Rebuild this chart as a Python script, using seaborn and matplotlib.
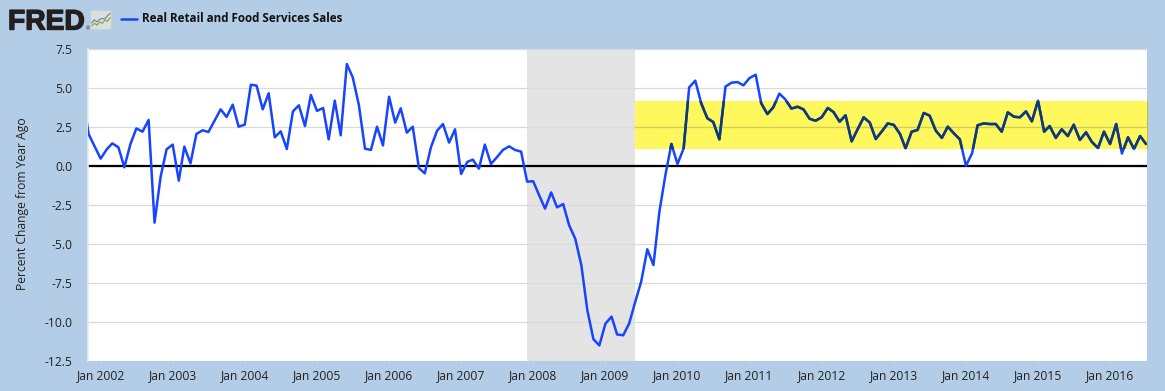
import matplotlib
matplotlib.use("Agg")
import matplotlib.pyplot as plt
import matplotlib.dates as mdates
import matplotlib.patheffects as pe
from matplotlib.patches import Rectangle, FancyBboxPatch
from matplotlib.lines import Line2D
import pandas as pd
import seaborn as sns

W, H = 1165, 391
BG = "#B3CDE6"
TITLE = "Real Retail and Food Services Sales"
YLABEL = "Percent Change from Year Ago"

start_month = "2001-10-01"
sales_yoy = [
    4.6, 2.05, 1.28, 0.47, 1.07, 1.45, 1.2, -0.08, 1.41, 2.41, 2.2, 2.95, -3.63, -0.68, 1.07, 1.37,
    -0.94, 1.24, 0.17, 2.05, 2.29, 2.18, 2.9, 3.63, 3.14, 3.93, 2.52, 2.65, 5.21, 5.15, 3.63, 4.66,
    1.84, 2.22, 1.09, 3.5, 3.89, 2.56, 4.55, 3.53, 3.72, 1.71, 4.19, 1.97, 6.54, 5.68, 3.91, 1.11,
    1.03, 2.52, 1.32, 4.44, 2.78, 3.7, 2.14, 2.52, -0.13, -0.47, 1.2, 2.26, 2.69, 1.5, 2.35, -0.51,
    0.26, 0.41, -0.17, 1.37, 0.13, 0.56, 1.03, 1.26, 1.03, 0.92, -1.0, -0.98, -1.9, -2.73, -1.69,
    -2.65, -2.44, -3.8, -4.66, -6.37, -9.23, -11.1, -11.5, -10.1, -9.66, -10.8, -10.85, -10.1, -8.7,
    -7.41, -5.34, -6.35, -2.95, -0.55, 1.41, 0.13, 1.13, 5.04, 5.47, 4.02, 3.06, 2.82, 1.71, 5.09,
    5.34, 5.38, 5.17, 5.64, 5.85, 4.02, 3.33, 3.76, 4.64, 4.27, 3.68, 3.8, 3.63, 3.03, 2.9, 3.12,
    3.72, 3.46, 2.84, 3.25, 1.58, 2.35, 3.12, 2.78, 1.73, 2.22, 2.73, 2.63, 2.05, 1.13, 2.2, 2.31,
    3.4, 3.23, 2.27, 1.8, 2.52, 2.09, 1.71, 0.02, 0.81, 2.61, 2.73, 2.69, 2.69, 2.2, 3.44, 3.16,
    3.12, 3.5, 2.86, 4.19, 2.2, 2.56, 1.8, 2.35, 1.92, 2.65, 1.67, 2.16, 1.54, 1.15, 2.2, 1.41,
    2.69, 0.8, 1.84, 1.09, 1.92, 1.41,
]
months = pd.date_range(start_month, periods=len(sales_yoy), freq="MS")
df = pd.DataFrame({"date": months, "pct": sales_yoy})

recession = ("2007-12-01", "2009-06-01")
band_start = "2009-06-01"
band_low, band_high = 1.09, 4.15
y_ticks = [-12.5, -10, -7.5, -5, -2.5, 0, 2.5, 5, 7.5]
y_labels = ["-12.5", "-10.0", "-7.5", "-5.0", "-2.5", "0.0", "2.5", "5.0", "7.5"]
x_years = list(range(2002, 2017))
icon_green = [0.25, 0.42, 0.30, 0.50, 0.42, 0.62, 0.55, 0.78]
icon_blue = [0.42, 0.60, 0.48, 0.62, 0.68, 0.66, 0.85, 0.98]

sns.set_theme(style="white")
plt.rcParams["font.family"] = ["Open Sans", "DejaVu Sans"]

fig = plt.figure(figsize=(W / 100, H / 100), dpi=100, facecolor=BG)
L, R, T, B = 88, 1147, 49, 361
ax = fig.add_axes([L / W, 1 - B / H, (R - L) / W, (B - T) / H], facecolor="white")

xmin = pd.Timestamp("2001-10-29")
xmax = pd.Timestamp("2016-07-06")
x0, x1 = mdates.date2num(xmin), mdates.date2num(xmax)

for v in y_ticks:
    ax.axhline(v, color="#DADADA", lw=0.9, zorder=1)

ax.axvspan(pd.Timestamp(recession[0]), pd.Timestamp(recession[1]), color="#E4E4E4", lw=0, zorder=0.5)

bx = mdates.date2num(pd.Timestamp(band_start))
px = (x1 - x0) / (R - L)
band = Rectangle((bx, band_low), x1 - bx + px * 1.3, band_high - band_low,
                 facecolor="#FFF85C", edgecolor="none", zorder=0.8, clip_on=False)
ax.add_patch(band)
strip = Rectangle((x1, band_low), px * 1.3, band_high - band_low,
                  facecolor="#B4BE4E", edgecolor="none", zorder=0.9, clip_on=False)
ax.add_patch(strip)
ax.plot([bx, x1], [2.5, 2.5], color="#D2CE48", lw=0.9, zorder=1.2)

ax.axhline(0, color="black", lw=1.6, zorder=2)

sns.lineplot(data=df, x="date", y="pct", ax=ax, color="#1744FF", lw=1.8, zorder=3,
             estimator=None, errorbar=None, legend=False)

over = Line2D(mdates.date2num(df["date"]), df["pct"], color="#123A6E", lw=1.8, zorder=4)
ax.add_line(over)
clip = Rectangle((bx, band_low), x1 - bx, band_high - band_low, transform=ax.transData)
over.set_clip_path(clip)

ax.set_xlim(x0, x1)
ax.set_ylim(-12.5, 7.5)
ax.set_xlabel("")
ax.set_ylabel("")

ax.set_yticks(y_ticks)
ax.set_yticklabels(y_labels, fontsize=8.7, color="#222222")
ax.set_xticks([pd.Timestamp(f"{y}-01-01") for y in x_years if y <= 2016])
ax.set_xticklabels([f"Jan {y}" for y in x_years if y <= 2016], fontsize=8.7, color="#222222")
ax.tick_params(axis="y", length=0, pad=11)
ax.tick_params(axis="x", length=3, width=0.8, color="#C6D6E6", pad=3, bottom=True)

for s in ["top", "right", "bottom"]:
    ax.spines[s].set_visible(False)
ax.spines["left"].set_color("#E4ECF4")
ax.spines["left"].set_linewidth(1.2)

fig.text(22.5 / W, 1 - 204 / H, YLABEL, rotation=90, ha="center", va="center",
         fontsize=8.7, color="#222222")

fig.text(8 / W, 1 - 29.5 / H, "FRED", family="Liberation Sans", fontweight="bold", fontsize=20.3,
         color="#231F20", ha="left", va="baseline",
         path_effects=[pe.withStroke(linewidth=1.0, foreground="#231F20")])
fig.text(85.5 / W, 1 - 30 / H, "®", fontsize=3.5, color="#231F20", ha="left", va="baseline")

icon = fig.add_axes([90 / W, 1 - 30 / H, 22 / W, 20 / H])
icon.set_xlim(0, 1)
icon.set_ylim(0, 1)
icon.axis("off")
icon.add_patch(FancyBboxPatch((0.03, 0.03), 0.94, 0.94, boxstyle="round,pad=0,rounding_size=0.1",
                              facecolor="#DCE0DC", edgecolor="#C8D0D0", lw=0.5))
icon_x = [0.08 + 0.12 * i for i in range(len(icon_green))]
icon.plot(icon_x, [v * 0.8 for v in icon_green], color="#8AA84A", lw=0.9)
icon.plot(icon_x, [v * 0.85 for v in icon_blue], color="#6E8EA8", lw=0.9)

fig.add_artist(Line2D([121 / W, 137 / W], [1 - 18.5 / H, 1 - 18.5 / H], color="#1744FF", lw=1.8))
fig.text(142 / W, 1 - 18.5 / H, TITLE, fontsize=8.4, fontweight="bold", color="#111111",
         ha="left", va="center")

fig.savefig("out.png", dpi=100, facecolor=BG)
